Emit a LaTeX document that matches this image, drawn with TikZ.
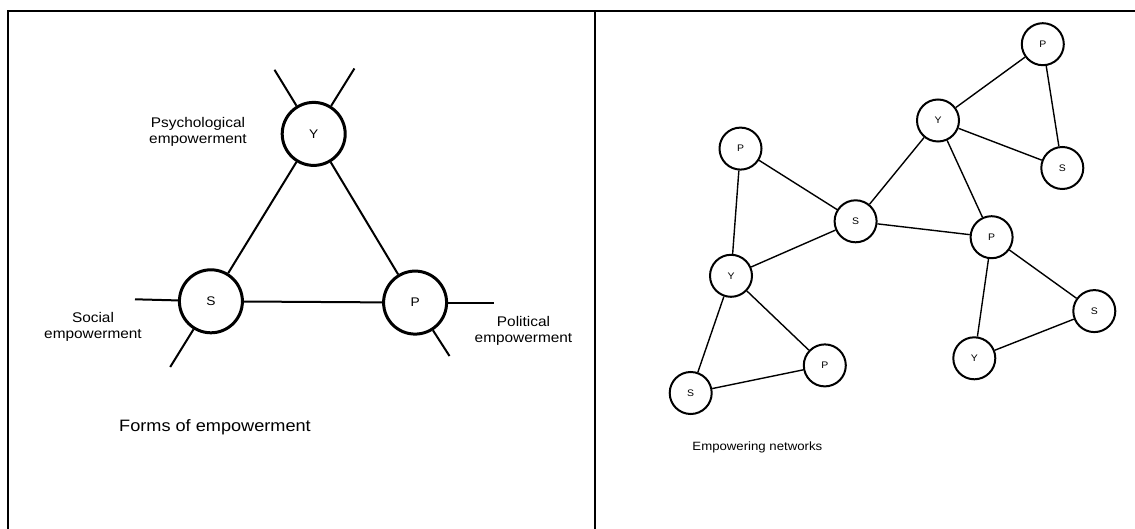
\documentclass[tikz,border=0pt]{standalone}
\usepackage{fontspec}
\setmainfont{Liberation Sans}[FakeStretch=1.1]
\begin{document}
\begin{tikzpicture}[x=1pt,y=-1pt,
  frame/.style={line width=2pt,line join=miter},
  bigcirc/.style={circle,draw,line width=3pt,minimum size=63pt,inner sep=0pt,
    fill=white,font=\fontsize{12.5}{14}\selectfont},
  smallcirc/.style={circle,draw,line width=2pt,minimum size=42pt,inner sep=0pt,
    fill=white,font=\fontsize{9.5}{11}\selectfont},
  bigline/.style={line width=2pt},
  smallline/.style={line width=1.4pt},
  lab/.style={align=center,inner sep=0pt,font=\fontsize{14}{16.2}\selectfont},
  caption/.style={inner sep=0pt}]
\useasboundingbox (0,0) rectangle (1135,529);

% page frame and divider
\coordinate (tl) at (7.5,11);
\coordinate (bl) at (7.5,529);
\coordinate (tr) at (1135,11);
\coordinate (dt) at (594.5,11);
\coordinate (db) at (594.5,529);
\draw[frame] (bl) -- (tl) -- (tr);
\draw[frame] (dt) -- (db);

% ---- Forms of empowerment ----
\node[bigcirc] (Y) at (313.7,133.9) {Y};
\node[bigcirc] (S) at (210.9,301.3) {S};
\node[bigcirc] (P) at (415.1,302.6) {P};

\coordinate (yl) at (274.5,69.8);
\coordinate (yr) at (354.4,68.5);
\coordinate (sl) at (135,299.3);
\coordinate (sd) at (170.2,367);
\coordinate (pr) at (493.9,302.6);
\coordinate (pd) at (449.5,356);

\draw[bigline] (Y) -- (S);
\draw[bigline] (Y) -- (P);
\draw[bigline] (S) -- (P);
\draw[bigline] (Y) -- (yl);
\draw[bigline] (Y) -- (yr);
\draw[bigline] (S) -- (sl);
\draw[bigline] (S) -- (sd);
\draw[bigline] (P) -- (pr);
\draw[bigline] (P) -- (pd);

\node[lab] (ly) at (198,132) {Psychological\\empowerment};
\node[lab] (ls) at (93,326.5) {Social\\empowerment};
\node[lab] (lp) at (523.5,330.5) {Political\\empowerment};
\node[caption,font=\fontsize{16.5}{18}\selectfont] (cap1) at (215,427) {Forms of empowerment};

% ---- Empowering networks ----
\node[smallcirc] (P1) at (1042.8,44.2) {P};
\node[smallcirc] (Y1) at (938,120.5) {Y};
\node[smallcirc] (S1) at (1062.3,168) {S};
\node[smallcirc] (P2) at (740.5,148.6) {P};
\node[smallcirc] (S2) at (855.6,221.3) {S};
\node[smallcirc] (P3) at (991.6,237.2) {P};
\node[smallcirc] (Y2) at (731,275.8) {Y};
\node[smallcirc] (S3) at (1094.3,311.1) {S};
\node[smallcirc] (Y3) at (974.3,358.3) {Y};
\node[smallcirc] (P4) at (824.8,365.4) {P};
\node[smallcirc] (S4) at (690.7,393) {S};

\draw[smallline] (P1) -- (Y1);
\draw[smallline] (P1) -- (S1);
\draw[smallline] (Y1) -- (S1);
\draw[smallline] (Y1) -- (S2);
\draw[smallline] (Y1) -- (P3);
\draw[smallline] (S2) -- (P3);
\draw[smallline] (P2) -- (S2);
\draw[smallline] (P2) -- (Y2);
\draw[smallline] (Y2) -- (S2);
\draw[smallline] (Y2) -- (S4);
\draw[smallline] (Y2) -- (P4);
\draw[smallline] (S4) -- (P4);
\draw[smallline] (P3) -- (Y3);
\draw[smallline] (P3) -- (S3);
\draw[smallline] (S3) -- (Y3);

\node[caption,font=\fontsize{12}{14}\selectfont] (cap2) at (757.4,447) {Empowering networks};
\end{tikzpicture}
\end{document}
